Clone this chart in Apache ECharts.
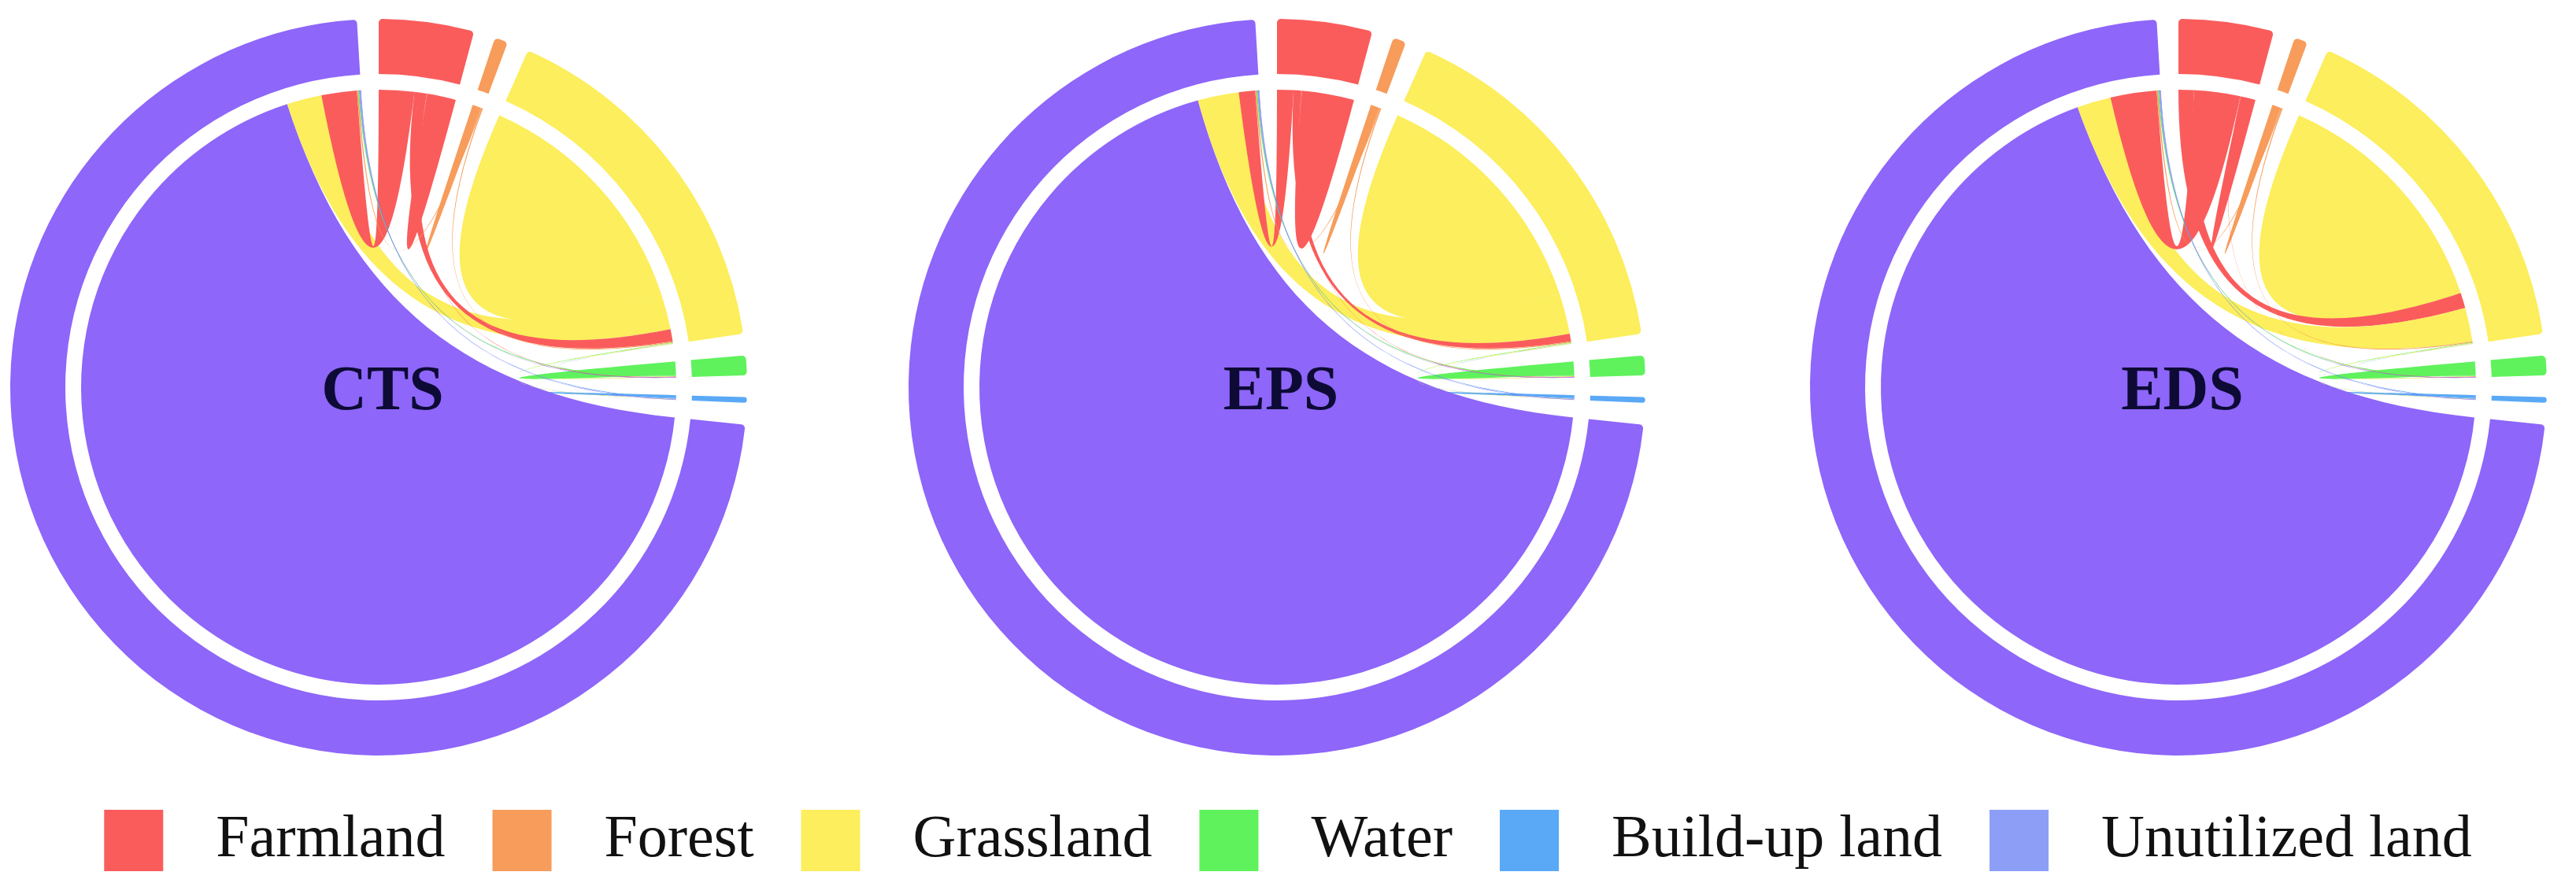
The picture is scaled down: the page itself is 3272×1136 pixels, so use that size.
<!DOCTYPE html>
<html lang="en">

<head>
    <meta charset="UTF-8">
    <title>Land use chord</title>
    <script src="https://cdn.jsdelivr.net/npm/echarts@6.0.0/dist/echarts.min.js"></script>
    <style>
        * {
            margin: 0;
            padding: 0;
        }

        #main {
            width: 3272px;
            height: 1136px;
            background: #fff;
        }
    </style>
</head>

<body>
    <div id="main"></div>
    <script>
        // land types, clockwise from the top
        const landTypes = ['Farmland', 'Forest', 'Grassland', 'Water', 'Build-up land', 'Unutilized land']
        const nodeColors = ['#fa5c5c', '#f79c5b', '#fcee5c', '#5ff25c', '#5aa9f6', '#8e66f9']
        const legendColors = ['#fa5c5c', '#f79c5b', '#fcee5c', '#5ff25c', '#5aa9f6', '#8c9ef6']
        const scenarios = ['CTS', 'EPS', 'EDS']
        const centersX = [481, 1622, 2767]
        // does the unchanged part sit before the changes on each arc
        const keptFirst = [false, true, true, true, true, true]

        // area that keeps its land type
        const ctsKept = [5.6, 1.65, 48.0, 2.5, 0.55, 246.1]
        const epsKept = [10.2, 1.65, 47.7, 2.5, 0.55, 248.6]
        const edsKept = [2.9, 1.65, 47.6, 2.5, 0.55, 244.2]

        // changes [from, to, area]
        const ctsChanges = [
            [2, 5, 6.8], [0, 5, 6.9], [0, 2, 2.4], [1, 5, 0.25], [1, 2, 0.2], [3, 5, 0.2], [3, 2, 0.1],
            [2, 3, 0.1], [0, 3, 0.1], [5, 3, 0.1], [4, 5, 0.15], [4, 2, 0.05], [2, 4, 0.05], [5, 4, 0.1]
        ]
        const epsChanges = [
            [2, 5, 8.0], [0, 5, 3.2], [0, 2, 1.5], [1, 5, 0.25], [1, 2, 0.2], [3, 5, 0.2], [3, 2, 0.1],
            [2, 3, 0.1], [0, 3, 0.1], [5, 3, 0.1], [4, 5, 0.15], [4, 2, 0.05], [2, 4, 0.05], [5, 4, 0.1]
        ]
        const edsChanges = [
            [0, 2, 3.0], [2, 5, 6.6], [0, 5, 9.0], [1, 5, 0.25], [1, 2, 0.2], [3, 5, 0.2], [3, 2, 0.1],
            [2, 3, 0.1], [0, 3, 0.1], [5, 3, 0.1], [4, 5, 0.15], [4, 2, 0.05], [2, 4, 0.05], [5, 4, 0.1]
        ]
        const allKept = [ctsKept, epsKept, edsKept]
        const allChanges = [ctsChanges, epsChanges, edsChanges]

        const padAngle = 3.4

        function buildSeries(k) {
            const kept = allKept[k]
            const changes = allChanges[k]
            // total per land type = kept + every change in or out
            const changed = landTypes.map(() => 0)
            changes.forEach(c => {
                changed[c[0]] += c[2]
                changed[c[1]] += c[2]
            })
            const totals = kept.map((v, i) => v + changed[i])
            const sum = totals.reduce((a, b) => a + b, 0)
            // pad expressed as value, so the inner layout lines up with the ring
            const gapValue = padAngle * sum / (360 - padAngle * landTypes.length)

            const changeLinks = changes.map(c => ({ source: landTypes[c[0]], target: landTypes[c[1]], value: c[2] }))

            // outer ring
            const ring = {
                type: 'chord',
                center: [centersX[k], 492],
                radius: [398, 468],
                startAngle: 90,
                clockwise: true,
                padAngle: padAngle,
                label: { show: false },
                data: landTypes.map((name, i) => ({ name: name, value: totals[i], itemStyle: { color: nodeColors[i] } })),
                links: changeLinks,
                lineStyle: { opacity: 0 },
                silent: true
            }

            // inner ribbons: kept area drawn as a link between two halves of the arc
            const innerNodes = []
            const keptLinks = []
            landTypes.forEach((name, i) => {
                const a = { name: name + ' kept a', value: kept[i] / 2, itemStyle: { color: nodeColors[i] } }
                const b = { name: name + ' kept b', value: kept[i] / 2, itemStyle: { color: nodeColors[i] } }
                const ch = { name: name, value: changed[i], itemStyle: { color: nodeColors[i] } }
                if (keptFirst[i]) innerNodes.push(a, b, ch)
                else innerNodes.push(ch, a, b)
                innerNodes.push({ name: 'gap ' + i, value: gapValue, itemStyle: { color: 'rgba(0,0,0,0)' } })
                keptLinks.push({ source: a.name, target: b.name, value: kept[i] / 2 })
            })
            const inner = {
                type: 'chord',
                center: [centersX[k], 492],
                radius: [378, 379],
                startAngle: 90,
                clockwise: true,
                padAngle: 0,
                label: { show: false },
                data: innerNodes,
                links: keptLinks.concat(changeLinks),
                itemStyle: { opacity: 0 },
                lineStyle: { color: 'source', opacity: 1 },
                silent: true
            }
            return [ring, inner]
        }

        let series = []
        scenarios.forEach((s, k) => {
            series = series.concat(buildSeries(k))
        })

        const myChart = echarts.init(document.querySelector('#main'))
        const option = {
            animation: false,
            title: scenarios.map((s, k) => ({
                text: s,
                left: centersX[k],
                top: 494,
                textAlign: 'center',
                textVerticalAlign: 'middle',
                textStyle: { fontFamily: 'Liberation Serif', fontWeight: 'bold', fontSize: 80, color: '#0d0b35' }
            })),
            legend: {
                bottom: 24,
                left: 'center',
                itemWidth: 75,
                itemHeight: 78,
                itemGap: 60,
                icon: 'rect',
                data: landTypes.map((name, i) => ({ name: name, itemStyle: { color: legendColors[i] } })),
                textStyle: { fontFamily: 'Liberation Serif', fontSize: 76, color: '#111', padding: [0, 0, 0, 62] }
            },
            series: series
        }
        myChart.setOption(option)
    </script>
</body>

</html>
